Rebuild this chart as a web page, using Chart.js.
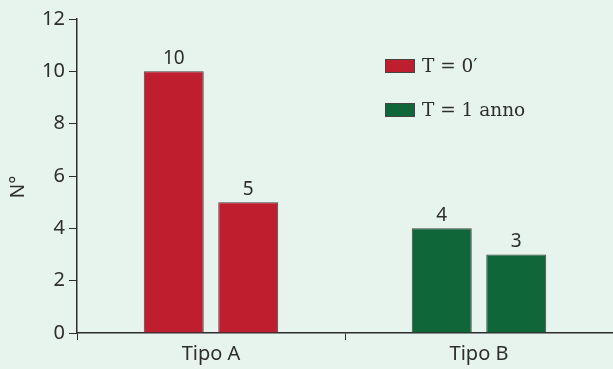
<!DOCTYPE html>
<html>
<head>
<meta charset="utf-8">
<script src="https://cdn.jsdelivr.net/npm/chart.js@4/dist/chart.umd.min.js"></script>
<style>
  html, body { margin: 0; padding: 0; background: #e7f3ed; }
  #wrap { width: 613px; height: 369px; }
</style>
</head>
<body>
<div id="wrap"><canvas id="c" width="613" height="369"></canvas></div>
<script>
// Categories and counts
const categories = ['Tipo A', 'Tipo B'];
const seriesLabels = ['T = 0\u2032', 'T = 1 anno'];
const firstBars = [10, 4];
const secondBars = [5, 3];
const yTicks = [0, 2, 4, 6, 8, 10, 12];
const yTitle = 'N\u00b0';

const RED = '#be1e2d';
const GREEN = '#0f6638';
const categoryColors = [RED, GREEN];
const seriesColors = [RED, GREEN];
const INK = '#2e2e2e';
const TICK_FONT = { family: '"Noto Sans", sans-serif', size: 20 };

// Value labels above each bar
const valueLabels = {
  id: 'valueLabels',
  afterDatasetsDraw(chart) {
    const ctx = chart.ctx;
    ctx.save();
    ctx.fillStyle = INK;
    ctx.font = '19px "Noto Sans", sans-serif';
    ctx.textAlign = 'center';
    ctx.textBaseline = 'bottom';
    chart.data.datasets.forEach((ds, i) => {
      chart.getDatasetMeta(i).data.forEach((bar, j) => {
        ctx.fillText(String(ds.data[j]), bar.x, bar.y - 3);
      });
    });
    ctx.restore();
  }
};

// Legend inside the plot area, plus the rotated y-axis title
const insideLegend = {
  id: 'insideLegend',
  afterDraw(chart) {
    const ctx = chart.ctx;
    ctx.save();
    ctx.font = '18.5px "DejaVu Serif", serif';
    ctx.textBaseline = 'middle';
    ctx.textAlign = 'left';
    seriesLabels.forEach((lab, i) => {
      const x = 385, y = 59 + i * 44;
      ctx.fillStyle = seriesColors[i];
      ctx.fillRect(x, y, 30, 14);
      ctx.strokeStyle = '#444';
      ctx.lineWidth = 1;
      ctx.strokeRect(x + 0.5, y + 0.5, 29, 13);
      ctx.fillStyle = INK;
      ctx.fillText(lab, x + 37, y + 8);
    });
    ctx.translate(19, 187);
    ctx.rotate(-Math.PI / 2);
    ctx.textAlign = 'center';
    ctx.font = '19px "Noto Sans", sans-serif';
    ctx.fillText(yTitle, 0, 0);
    ctx.restore();
  }
};

new Chart(document.getElementById('c'), {
  type: 'bar',
  data: {
    labels: categories,
    datasets: [
      { label: seriesLabels[0], data: firstBars, backgroundColor: categoryColors,
        borderColor: '#444', borderWidth: 1, categoryPercentage: 0.556, barPercentage: 0.805 },
      { label: seriesLabels[1], data: secondBars, backgroundColor: categoryColors,
        borderColor: '#444', borderWidth: 1, categoryPercentage: 0.556, barPercentage: 0.805 }
    ]
  },
  options: {
    responsive: false,
    animation: false,
    layout: { padding: { top: 19, right: 0, left: 0, bottom: 0 } },
    plugins: { legend: { display: false }, tooltip: { enabled: false } },
    scales: {
      x: {
        grid: { offset: true, drawOnChartArea: false, tickLength: 7, color: INK },
        border: { color: INK, width: 1.5 },
        ticks: { color: INK, font: TICK_FONT, padding: 2 },
        afterFit(s) { s.height = 36; }
      },
      y: {
        min: 0, max: 12,
        afterBuildTicks(s) { s.ticks = yTicks.map(v => ({ value: v })); },
        grid: { drawOnChartArea: false, tickLength: 8, color: INK },
        border: { color: INK, width: 1.5 },
        ticks: { color: INK, font: TICK_FONT, padding: 4 },
        afterFit(s) { s.width = 77; }
      }
    }
  },
  plugins: [valueLabels, insideLegend]
});
</script>
</body>
</html>
